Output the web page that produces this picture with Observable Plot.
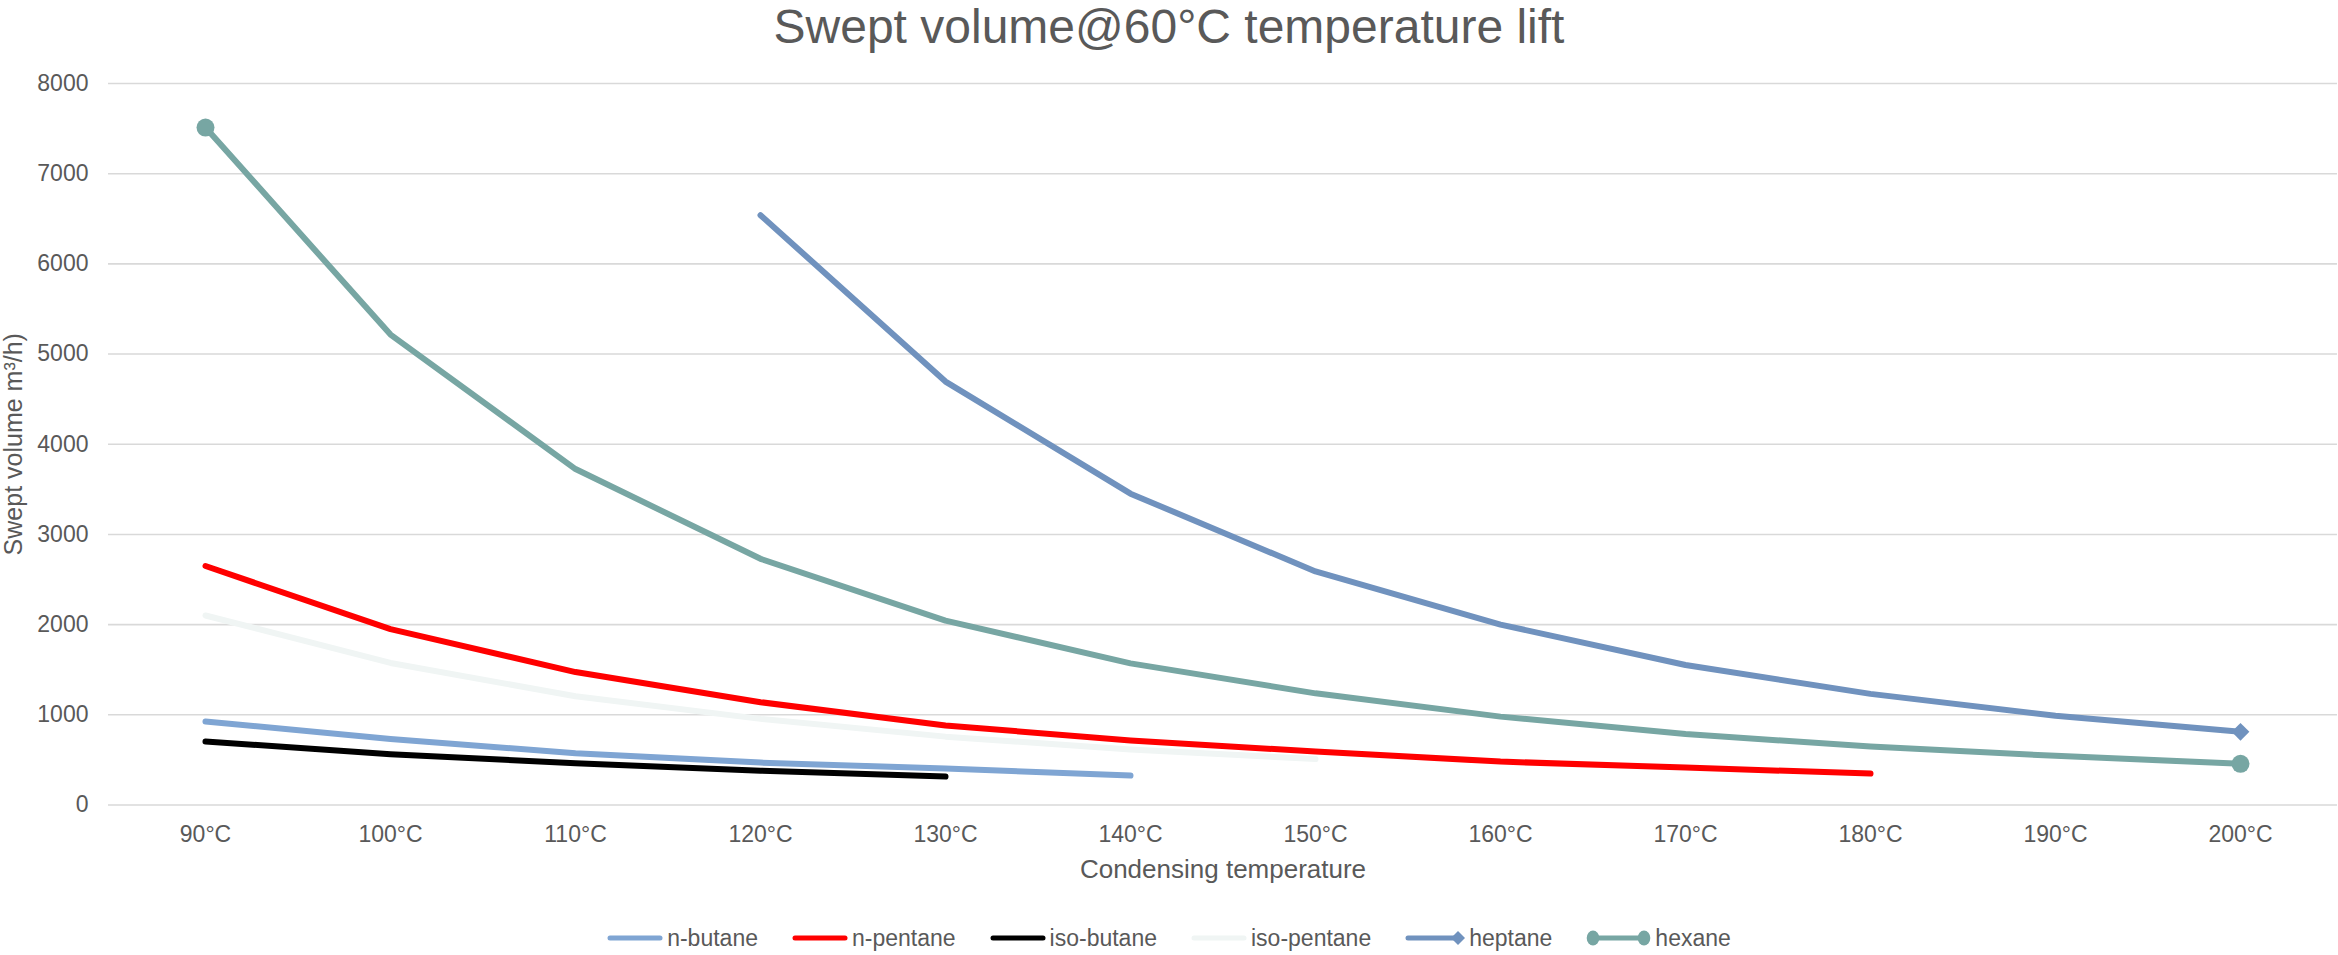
<!DOCTYPE html>
<html>
<head>
<meta charset="utf-8">
<script src="https://cdn.jsdelivr.net/npm/d3@7"></script>
<script src="https://cdn.jsdelivr.net/npm/@observablehq/plot@0.6"></script>
<style>
  html, body { margin: 0; padding: 0; background: #ffffff; }
  body { font-family: "Liberation Sans", Arial, sans-serif; color: #595959; width: 2338px; }
  #title { height: 44px; line-height: 54px; font-size: 48px; text-align: center; white-space: nowrap; overflow: visible; position: relative; z-index: 1; }
  #chart svg { display: block; }
  #legend { display: flex; justify-content: center; align-items: center; margin-top: 34px; height: 30px; font-size: 23px; white-space: nowrap; }
  .item { display: flex; align-items: center; margin: 0 17px; }
  .item svg { display: block; margin-right: 4px; }
</style>
</head>
<body>
<div id="title">Swept volume@60°C temperature lift</div>
<div id="chart"></div>
<div id="legend"></div>
<script>
// ---- data ----
const categories = ["90°C", "100°C", "110°C", "120°C", "130°C", "140°C", "150°C", "160°C", "170°C", "180°C", "190°C", "200°C"];
const yTicks = [0, 1000, 2000, 3000, 4000, 5000, 6000, 7000, 8000];
const seriesNames = ["n-butane", "n-pentane", "iso-butane", "iso-pentane", "heptane", "hexane"];
const nButane    = [926, 733, 574, 470, 404, 326, null, null, null, null, null, null];
const nPentane   = [2650, 1950, 1474, 1140, 882, 715, 593, 481, 415, 348, null, null];
const isoButane  = [704, 563, 463, 380, 315, null, null, null, null, null, null, null];
const isoPentane = [2101, 1575, 1205, 955, 758, 615, 510, null, null, null, null, null];
const heptane    = [null, null, null, 6540, 4695, 3452, 2590, 2000, 1552, 1232, 990, 811];
const hexane     = [7511, 5216, 3725, 2730, 2044, 1570, 1238, 980, 787, 648, 545, 457];
const seriesColors = ["#7FA5D3", "#FF0000", "#000000", "#F0F5F4", "#7092BE", "#77A6A3"];

const seriesValues = [nButane, nPentane, isoButane, isoPentane, heptane, hexane];
const rows = [];
seriesNames.forEach((name, si) => {
  seriesValues[si].forEach((v, ci) => {
    if (v != null) rows.push({series: name, cat: categories[ci], value: v});
  });
});
const colorOf = name => seriesColors[seriesNames.indexOf(name)];
const hexRows = rows.filter(d => d.series === "hexane");
const hepRows = rows.filter(d => d.series === "heptane");
const hexaneEnds = [hexRows[0], hexRows[hexRows.length - 1]];
const heptaneEnd = [hepRows[hepRows.length - 1]];

const FONT = '"Liberation Sans", Arial, sans-serif';
const TXT = "#595959";

const chart = Plot.plot({
  width: 2338,
  height: 845,
  marginLeft: 108,
  marginRight: 1,
  marginTop: 39,
  marginBottom: 84.5,
  style: {fontFamily: FONT, fontSize: "23px", color: TXT, background: "#ffffff", overflow: "visible"},
  x: {type: "point", domain: categories, padding: 0.5, label: null},
  y: {domain: [0, 8000], label: null},
  color: {domain: seriesNames, range: seriesColors},
  marks: [
    Plot.gridY(yTicks, {stroke: "#D9D9D9", strokeOpacity: 1, strokeWidth: 1.6}),
    Plot.axisY(yTicks, {tickSize: 0, tickPadding: 20, fontSize: 23, fill: TXT, tickFormat: d3.format("d"), label: null}),
    Plot.axisX({tickSize: 0, tickPadding: 21, fontSize: 23, fill: TXT, label: null}),
    Plot.line(rows, {x: "cat", y: "value", z: "series", stroke: "series", strokeWidth: 6, strokeLinecap: "round", strokeLinejoin: "round"}),
    Plot.dot(hexaneEnds, {x: "cat", y: "value", r: 9, fill: colorOf("hexane"), stroke: null}),
    Plot.dot(heptaneEnd, {x: "cat", y: "value", r: 8, symbol: "diamond2", fill: colorOf("heptane"), stroke: null}),
    Plot.text(["Condensing temperature"], {text: d => d, frameAnchor: "bottom", lineAnchor: "bottom", dy: 73, fontSize: 26, fill: TXT}),
    Plot.text(["Swept volume m³/h)"], {text: d => d, frameAnchor: "left", lineAnchor: "bottom", textAnchor: "middle", rotate: -90, dx: -87, fontSize: 25, fill: TXT})
  ]
});
document.getElementById("chart").appendChild(chart);

// ---- legend ----
const legend = document.getElementById("legend");
const NS = "http://www.w3.org/2000/svg";
seriesNames.forEach((name, i) => {
  const item = document.createElement("div");
  item.className = "item";
  const w = name === "hexane" ? 65 : (name === "heptane" ? 60 : 56);
  const svg = document.createElementNS(NS, "svg");
  svg.setAttribute("width", w);
  svg.setAttribute("height", 20);
  const c = seriesColors[i];
  const line = document.createElementNS(NS, "line");
  const x1 = name === "hexane" ? 7 : 3;
  const x2 = name === "hexane" ? w - 7 : (name === "heptane" ? w - 8 : w - 3);
  line.setAttribute("x1", x1); line.setAttribute("x2", x2);
  line.setAttribute("y1", 10); line.setAttribute("y2", 10);
  line.setAttribute("stroke", c); line.setAttribute("stroke-width", 5);
  line.setAttribute("stroke-linecap", "round");
  svg.appendChild(line);
  if (name === "heptane") {
    const p = document.createElementNS(NS, "path");
    p.setAttribute("d", `M${w-14},10 L${w-7},3 L${w},10 L${w-7},17 Z`);
    p.setAttribute("fill", c);
    svg.appendChild(p);
  }
  if (name === "hexane") {
    [7, w - 7].forEach(cx => {
      const e = document.createElementNS(NS, "ellipse");
      e.setAttribute("cx", cx); e.setAttribute("cy", 10);
      e.setAttribute("rx", 6.3); e.setAttribute("ry", 7.5);
      e.setAttribute("fill", c);
      svg.appendChild(e);
    });
  }
  item.appendChild(svg);
  const label = document.createElement("span");
  label.textContent = name;
  item.appendChild(label);
  legend.appendChild(item);
});
</script>
</body>
</html>
